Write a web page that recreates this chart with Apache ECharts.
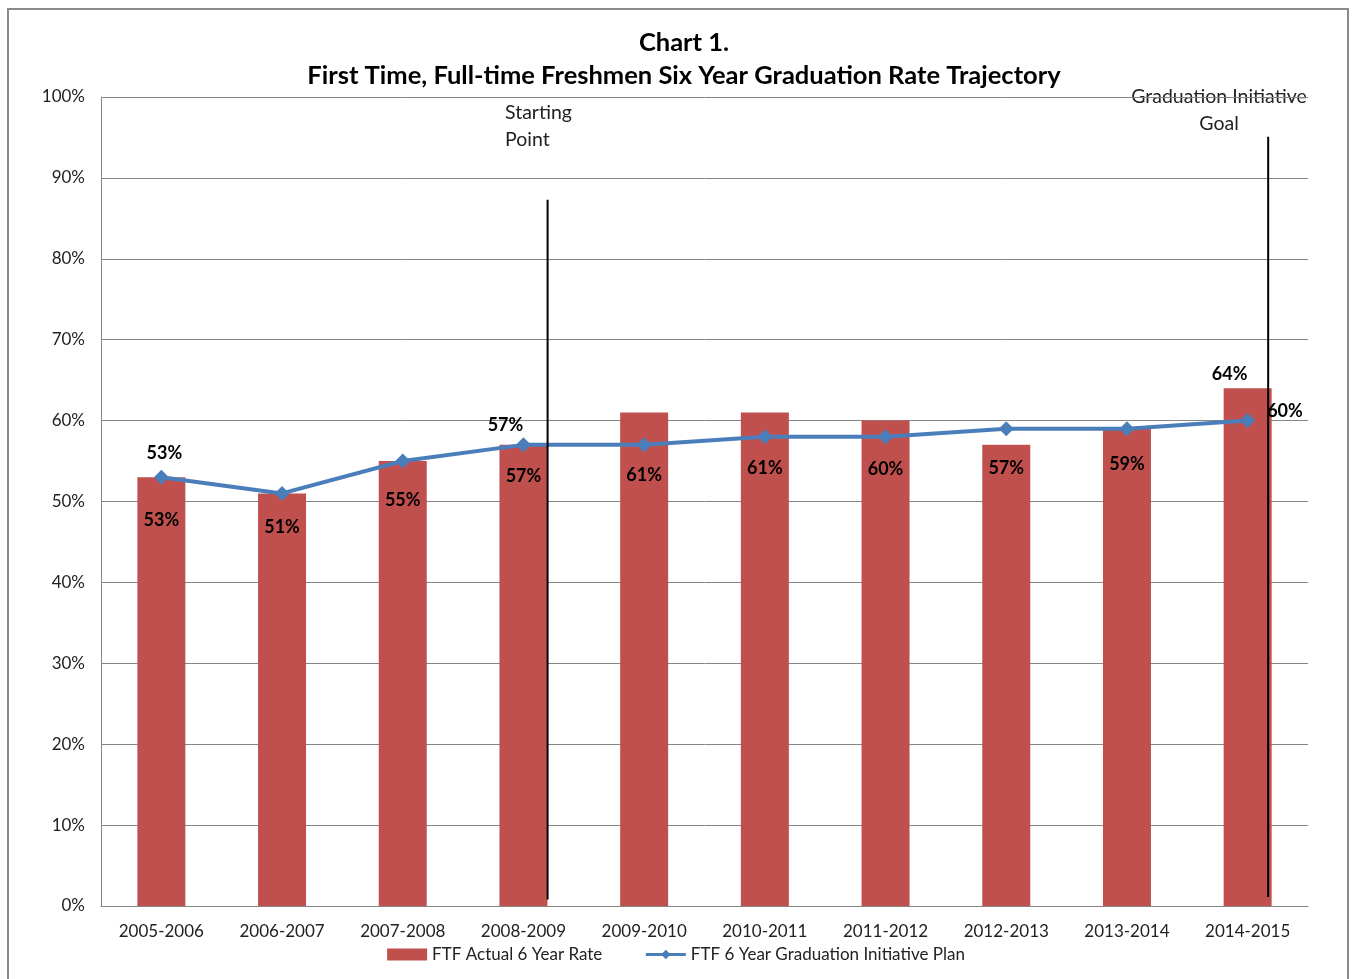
<!DOCTYPE html>
<html>
<head>
<meta charset="utf-8">
<script src="https://cdn.jsdelivr.net/npm/echarts@6/dist/echarts.min.js"></script>
<style>
html,body{margin:0;padding:0;background:#fff;}
#frame{position:absolute;left:7px;top:8px;width:1342px;height:980px;border:2px solid #8a8a8a;box-sizing:border-box;}
#chart{position:absolute;left:0;top:0;width:1352px;height:979px;}
</style>
</head>
<body>
<div id="frame"></div>
<div id="chart"></div>
<script>
// ---- data ----
const categories = ['2005-2006','2006-2007','2007-2008','2008-2009','2009-2010','2010-2011','2011-2012','2012-2013','2013-2014','2014-2015'];
const actualRate = [53, 51, 55, 57, 61, 61, 60, 57, 59, 64];
const planRate = [53, 51, 55, 57, 57, 58, 58, 59, 59, 60];
const yTicks = [0,10,20,30,40,50,60,70,80,90,100];
// annotation lines on a hidden 0..10 x scale (category i spans i..i+1)
const startLine = [[3.70, 87.3], [3.70, 0.8]];
const goalLine = [[9.67, 95.1], [9.67, 1.1]];

// ---- label placement (styling) ----
const barLabelDy = [43, 34, 39, 31, 63, 56, 49, 23, 35, -14];
const barLabelDx = [0, 0, 0, 0, 0, 0, 0, 0, 0, -18];
const planLabelShown = [true, false, false, true, false, false, false, false, false, true];

const FONT = 'Lato, "Open Sans", sans-serif';

const barData = actualRate.map((v, i) => ({
  value: v,
  label: {
    show: true,
    position: [barLabelDx[i] + 24, barLabelDy[i]],
    align: 'center',
    verticalAlign: 'middle'
  }
}));

const planLabelCfg = [
  {position: 'top', distance: 8, offset: [3, 0]},
  null, null,
  {position: 'top', distance: 3, offset: [-18, 0]},
  null, null, null, null, null,
  {position: 'right', distance: 6, offset: [6, -9]}
];
const planData = planRate.map((v, i) => {
  const o = {value: v};
  if (planLabelShown[i]) {
    o.label = Object.assign({show: true}, planLabelCfg[i]);
  }
  return o;
});

const chart = echarts.init(document.getElementById('chart'), null, {renderer: 'canvas'});
const option = {
  animation: false,
  backgroundColor: 'transparent',
  textStyle: {fontFamily: FONT},
  title: {
    text: 'Chart 1.\nFirst Time, Full-time Freshmen Six Year Graduation Rate Trajectory',
    left: 679,
    top: 21,
    textAlign: 'center',
    textStyle: {fontFamily: FONT, fontWeight: 'bold', fontSize: 25.5, lineHeight: 33, color: '#000'}
  },
  legend: {
    left: 'center',
    top: 941,
    itemGap: 42,
    itemWidth: 40,
    itemHeight: 12,
    textStyle: {fontFamily: FONT, fontSize: 17, color: '#222'},
    data: [
      {name: 'FTF Actual 6 Year Rate', icon: 'rect'},
      {name: 'FTF 6 Year Graduation Initiative Plan', lineStyle: {width: 3}}
    ]
  },
  grid: {left: 101, right: 44, top: 97, bottom: 73, containLabel: false},
  xAxis: [
    {
      type: 'category',
      data: categories,
      axisLine: {lineStyle: {color: '#868686', width: 1}},
      axisTick: {show: false},
      axisLabel: {fontFamily: FONT, fontSize: 17, color: '#222', margin: 17},
      splitLine: {show: false}
    },
    {
      type: 'value', min: 0, max: 10, show: false
    }
  ],
  yAxis: {
    type: 'value',
    min: 0, max: 100, interval: 10,
    axisLine: {show: true, lineStyle: {color: '#868686', width: 1}},
    axisTick: {show: false},
    axisLabel: {fontFamily: FONT, fontSize: 17, color: '#222', margin: 16, formatter: v => v + '%'},
    splitLine: {lineStyle: {color: '#868686', width: 1}}
  },
  series: [
    {
      name: 'FTF Actual 6 Year Rate',
      type: 'bar',
      data: barData,
      barWidth: 48,
      itemStyle: {color: '#C0504D'},
      label: {fontFamily: FONT, fontWeight: 'bold', fontSize: 18, color: '#000', formatter: '{c}%'},
      z: 2
    },
    {
      name: 'FTF 6 Year Graduation Initiative Plan',
      type: 'line',
      data: planData,
      symbol: 'diamond',
      symbolSize: 15,
      lineStyle: {color: '#4A7EBB', width: 4},
      itemStyle: {color: '#4A7EBB'},
      label: {show: false, fontFamily: FONT, fontWeight: 'bold', fontSize: 18, color: '#000', formatter: '{c}%'},
      z: 4
    },
    {
      name: 'start', type: 'line', xAxisIndex: 1, data: startLine,
      symbol: 'none', lineStyle: {color: '#000', width: 2}, z: 5, silent: true
    },
    {
      name: 'goal', type: 'line', xAxisIndex: 1, data: goalLine,
      symbol: 'none', lineStyle: {color: '#000', width: 2}, z: 5, silent: true
    }
  ],
  graphic: [
    {type: 'text', x: 505, y: 99, style: {text: 'Starting\nPoint', font: '19.5px ' + FONT, lineHeight: 27, fill: '#222', align: 'left'}},
    {type: 'text', x: 1219, y: 83, style: {text: 'Graduation Initiative\nGoal', font: '19.5px ' + FONT, lineHeight: 27, fill: '#222', align: 'center'}}
  ]
};
chart.setOption(option);
</script>
</body>
</html>
